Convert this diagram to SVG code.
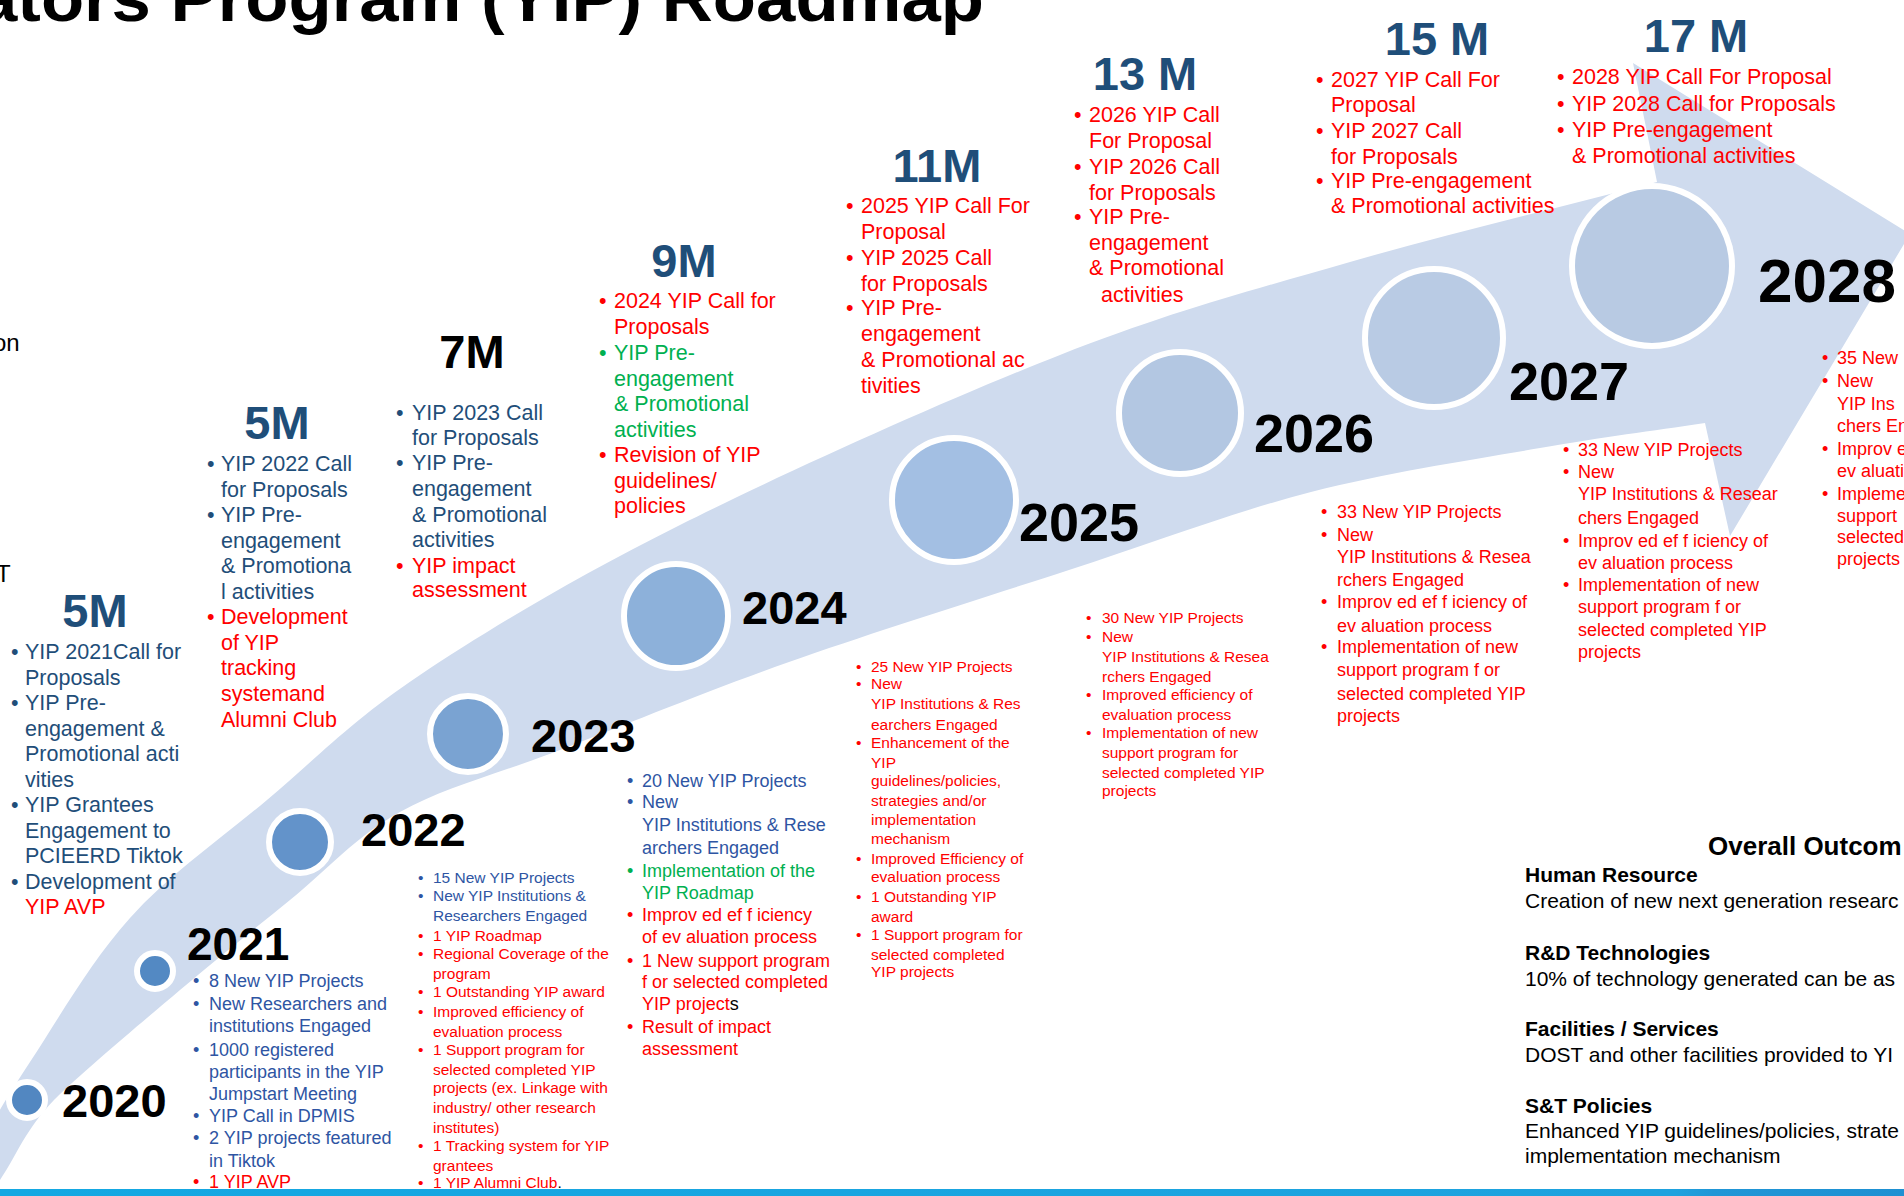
<svg xmlns="http://www.w3.org/2000/svg" width="1904" height="1196" viewBox="0 0 1904 1196">
<defs>
<style>
text { font-family: "Liberation Sans", Arial, sans-serif; }
.b { font-weight: bold; }
.nv { fill: #1F4E79; }
.rd { fill: #FF0000; }
.gr { fill: #00B050; }
.bl { fill: #2E55A3; }
.k { fill: #000000; }
.u { font-size: 21.5px; }
.s { font-size: 15.5px; }
.n { font-size: 18px; }
.m { font-size: 47px; font-weight: bold; text-anchor: middle; }
.yr { font-weight: bold; fill: #000000; }
.ring { stroke: #FFFFFF; stroke-width: 6; }
.oc { font-size: 21px; fill: #000000; }
</style>
<linearGradient id="strip" x1="0" y1="0" x2="1" y2="0">
<stop offset="0" stop-color="#14A8E2"/>
<stop offset="0.88" stop-color="#1FA2DE"/>
<stop offset="0.9" stop-color="#2196D6"/>
<stop offset="1" stop-color="#1E90D2"/>
</linearGradient>
</defs>
<rect x="0" y="0" width="1904" height="1196" fill="#FFFFFF"/>

<g id="connectors">
<path id="timeline-arrow" fill="#CFDBEE" d="M -30 1160 C -10 1127.3 3.3 1102.3 30 1062 C 56.7 1021.7 90.5 961.7 130 918 C 169.5 874.3 218.7 840.5 267 800 C 315.3 759.5 351.2 720.8 420 675 C 488.8 629.2 573.3 578.3 680 525 C 786.7 471.7 948.3 398.8 1060 355 C 1171.7 311.2 1250.5 290.8 1350 262 C 1449.5 233.2 1554.7 208.7 1657 182 L 1633 63 L 1910 234 L 1730 536 L 1705 423 C 1650 431.3 1605.7 436.5 1540 448 C 1474.3 459.5 1389.5 471.7 1311 492 C 1232.5 512.3 1156 541.7 1069 570 C 982 598.3 873.8 632 789 662 C 704.2 692 624.8 725 560 750 C 495.2 775 445 787 400 812 C 355 837 326.7 870.3 290 900 C 253.3 929.7 219.3 956.7 180 990 C 140.7 1023.3 85.7 1069.2 54 1100 C 24 1131.7 18 1153.3 0 1180 L -20 1210 L -60 1210 Z"/>
</g>

<rect id="bottom-strip" x="0" y="1189" width="1904" height="7" fill="url(#strip)"/>

<g id="title">
<text class="b k" x="-22" y="21" font-size="67" textLength="1006" lengthAdjust="spacingAndGlyphs">ators Program (YIP) Roadmap</text>
<text class="k" x="-7" y="351" font-size="24">on</text>
<text class="k" x="-4" y="582" font-size="24">T</text>
</g>

<g id="node-2020"><circle class="ring" cx="27" cy="1100" r="18" fill="#5287C1"/><text class="yr" x="62" y="1117" font-size="47">2020</text></g>
<g id="node-2021"><circle class="ring" cx="155" cy="971" r="18" fill="#5389C3"/><text class="yr" x="187" y="960" font-size="46">2021</text></g>
<g id="node-2022"><circle class="ring" cx="300" cy="842" r="31" fill="#6393CA"/><text class="yr" x="361" y="846" font-size="47">2022</text></g>
<g id="node-2023"><circle class="ring" cx="468" cy="734" r="38" fill="#7AA3D2"/><text class="yr" x="531" y="752" font-size="47">2023</text></g>
<g id="node-2024"><circle class="ring" cx="676" cy="616" r="52" fill="#8DB1DA"/><text class="yr" x="742" y="624" font-size="47">2024</text></g>
<g id="node-2025"><circle class="ring" cx="954" cy="500" r="62" fill="#A3BFE3"/><text class="yr" x="1019" y="541" font-size="54">2025</text></g>
<g id="node-2026"><circle class="ring" cx="1180" cy="413" r="61" fill="#B3C7E2"/><text class="yr" x="1254" y="452" font-size="54">2026</text></g>
<g id="node-2027"><circle class="ring" cx="1434" cy="338" r="69" fill="#B9CBE4"/><text class="yr" x="1509" y="400" font-size="54">2027</text></g>
<g id="node-2028"><circle class="ring" cx="1652" cy="266" r="80" fill="#B8CAE3"/><text class="yr" x="1758" y="302" font-size="62">2028</text></g>

<g id="targets-2021" class="u">
<text class="m nv" x="95" y="627">5M</text>
<text class="nv" y="659"><tspan x="11">•</tspan><tspan x="25">YIP 2021Call for</tspan></text>
<text class="nv" x="25" y="685">Proposals</text>
<text class="nv" y="710"><tspan x="11">•</tspan><tspan x="25">YIP Pre-</tspan></text>
<text class="nv" x="25" y="736">engagement &amp;</text>
<text class="nv" x="25" y="761">Promotional  acti</text>
<text class="nv" x="25" y="787">vities</text>
<text class="nv" y="812"><tspan x="11">•</tspan><tspan x="25">YIP Grantees</tspan></text>
<text class="nv" x="25" y="838">Engagement  to</text>
<text class="nv" x="25" y="863">PCIEERD  Tiktok</text>
<text class="nv" y="889"><tspan x="11">•</tspan><tspan x="25">Development of</tspan></text>
<text class="rd" x="25" y="914">YIP AVP</text>
</g>

<g id="targets-2022" class="u">
<text class="m nv" x="277" y="439">5M</text>
<text class="nv" y="471"><tspan x="207">•</tspan><tspan x="221">YIP 2022 Call</tspan></text>
<text class="nv" x="221" y="497">for Proposals</text>
<text class="nv" y="522"><tspan x="207">•</tspan><tspan x="221">YIP Pre-</tspan></text>
<text class="nv" x="221" y="548">engagement</text>
<text class="nv" x="221" y="573">&amp; Promotiona</text>
<text class="nv" x="221" y="599">l activities</text>
<text class="rd" y="624"><tspan x="207">•</tspan><tspan x="221">Development</tspan></text>
<text class="rd" x="221" y="650">of YIP</text>
<text class="rd" x="221" y="675">tracking</text>
<text class="rd" x="221" y="701">systemand</text>
<text class="rd" x="221" y="727">Alumni Club</text>
</g>

<g id="targets-2023" class="u">
<text class="m k" x="472" y="368">7M</text>
<text class="nv" y="420"><tspan x="396">•</tspan><tspan x="412">YIP 2023 Call</tspan></text>
<text class="nv" x="412" y="445">for Proposals</text>
<text class="nv" y="470"><tspan x="396">•</tspan><tspan x="412">YIP Pre-</tspan></text>
<text class="nv" x="412" y="496">engagement</text>
<text class="nv" x="412" y="522">&amp; Promotional</text>
<text class="nv" x="412" y="547">activities</text>
<text class="rd" y="573"><tspan x="396">•</tspan><tspan x="412">YIP impact</tspan></text>
<text class="rd" x="412" y="597">assessment</text>
</g>

<g id="targets-2024" class="u">
<text class="m nv" x="684" y="277">9M</text>
<text class="rd" y="308"><tspan x="599">•</tspan><tspan x="614">2024 YIP Call  for</tspan></text>
<text class="rd" x="614" y="334">Proposals</text>
<text class="gr" y="360"><tspan x="599">•</tspan><tspan x="614">YIP Pre-</tspan></text>
<text class="gr" x="614" y="386">engagement</text>
<text class="gr" x="614" y="411">&amp; Promotional</text>
<text class="gr" x="614" y="437">activities</text>
<text class="rd" y="462"><tspan x="599">•</tspan><tspan x="614">Revision of YIP</tspan></text>
<text class="rd" x="614" y="488">guidelines/</text>
<text class="rd" x="614" y="513">policies</text>
</g>

<g id="targets-2025" class="u">
<text class="m nv" x="937" y="182">11M</text>
<text class="rd" y="213"><tspan x="846">•</tspan><tspan x="861">2025 YIP Call For</tspan></text>
<text class="rd" x="861" y="239">Proposal</text>
<text class="rd" y="265"><tspan x="846">•</tspan><tspan x="861">YIP 2025 Call</tspan></text>
<text class="rd" x="861" y="291">for Proposals</text>
<text class="rd" y="315"><tspan x="846">•</tspan><tspan x="861">YIP Pre-</tspan></text>
<text class="rd" x="861" y="341">engagement</text>
<text class="rd" x="861" y="367">&amp; Promotional  ac</text>
<text class="rd" x="861" y="393">tivities</text>
</g>

<g id="targets-2026" class="u">
<text class="m nv" x="1145" y="90">13 M</text>
<text class="rd" y="122"><tspan x="1074">•</tspan><tspan x="1089">2026 YIP Call</tspan></text>
<text class="rd" x="1089" y="148">For Proposal</text>
<text class="rd" y="174"><tspan x="1074">•</tspan><tspan x="1089">YIP 2026 Call</tspan></text>
<text class="rd" x="1089" y="200">for Proposals</text>
<text class="rd" y="224"><tspan x="1074">•</tspan><tspan x="1089">YIP Pre-</tspan></text>
<text class="rd" x="1089" y="250">engagement</text>
<text class="rd" x="1089" y="275">&amp; Promotional</text>
<text class="rd" x="1101" y="302">activities</text>
</g>

<g id="targets-2027" class="u">
<text class="m nv" x="1437" y="55">15 M</text>
<text class="rd" y="87"><tspan x="1316">•</tspan><tspan x="1331">2027 YIP Call  For</tspan></text>
<text class="rd" x="1331" y="112">Proposal</text>
<text class="rd" y="138"><tspan x="1316">•</tspan><tspan x="1331">YIP 2027 Call</tspan></text>
<text class="rd" x="1331" y="164">for Proposals</text>
<text class="rd" y="188"><tspan x="1316">•</tspan><tspan x="1331">YIP Pre-engagement</tspan></text>
<text class="rd" x="1331" y="213">&amp; Promotional activities</text>
</g>

<g id="targets-2028" class="u">
<text class="m nv" x="1696" y="52">17 M</text>
<text class="rd" y="84"><tspan x="1557">•</tspan><tspan x="1572">2028 YIP Call For Proposal</tspan></text>
<text class="rd" y="111"><tspan x="1557">•</tspan><tspan x="1572">YIP 2028 Call for Proposals</tspan></text>
<text class="rd" y="137"><tspan x="1557">•</tspan><tspan x="1572">YIP Pre-engagement</tspan></text>
<text class="rd" x="1572" y="163">&amp; Promotional activities</text>
</g>

<g id="results-2021" class="n">
<text class="bl" y="987"><tspan x="193">•</tspan><tspan x="209">8 New YIP Projects</tspan></text>
<text class="bl" y="1010"><tspan x="193">•</tspan><tspan x="209">New Researchers and</tspan></text>
<text class="bl" x="209" y="1032">institutions Engaged</text>
<text class="bl" y="1056"><tspan x="193">•</tspan><tspan x="209">1000 registered</tspan></text>
<text class="bl" x="209" y="1078">participants in the YIP</text>
<text class="bl" x="209" y="1100">Jumpstart Meeting</text>
<text class="bl" y="1122"><tspan x="193">•</tspan><tspan x="209">YIP Call in DPMIS</tspan></text>
<text class="bl" y="1144"><tspan x="193">•</tspan><tspan x="209">2 YIP projects featured</tspan></text>
<text class="bl" x="209" y="1167">in Tiktok</text>
<text class="rd" y="1188"><tspan x="193">•</tspan><tspan x="209">1 YIP AVP</tspan></text>
</g>

<g id="results-2022" class="s">
<text class="bl" y="883"><tspan x="418">•</tspan><tspan x="433">15 New YIP Projects</tspan></text>
<text class="bl" y="901"><tspan x="418">•</tspan><tspan x="433">New YIP  Institutions  &amp;</tspan></text>
<text class="bl" x="433" y="921">Researchers  Engaged</text>
<text class="rd" y="941"><tspan x="418">•</tspan><tspan x="433">1 YIP Roadmap</tspan></text>
<text class="rd" y="959"><tspan x="418">•</tspan><tspan x="433">Regional  Coverage  of the</tspan></text>
<text class="rd" x="433" y="979">program</text>
<text class="rd" y="997"><tspan x="418">•</tspan><tspan x="433">1 Outstanding  YIP award</tspan></text>
<text class="rd" y="1017"><tspan x="418">•</tspan><tspan x="433">Improved  efficiency  of</tspan></text>
<text class="rd" x="433" y="1037">evaluation  process</text>
<text class="rd" y="1055"><tspan x="418">•</tspan><tspan x="433">1 Support  program  for</tspan></text>
<text class="rd" x="433" y="1075">selected  completed  YIP</text>
<text class="rd" x="433" y="1093">projects  (ex. Linkage  with</text>
<text class="rd" x="433" y="1113">industry/  other  research</text>
<text class="rd" x="433" y="1133">institutes)</text>
<text class="rd" y="1151"><tspan x="418">•</tspan><tspan x="433">1 Tracking system for  YIP</tspan></text>
<text class="rd" x="433" y="1171">grantees</text>
<text class="rd" y="1188"><tspan x="418">•</tspan><tspan x="433">1 YIP Alumni Club</tspan><tspan class="k">.</tspan></text>
</g>

<g id="results-2023" class="n">
<text class="bl" y="787"><tspan x="627">•</tspan><tspan x="642">20 New YIP Projects</tspan></text>
<text class="bl" y="808"><tspan x="627">•</tspan><tspan x="642">New</tspan></text>
<text class="bl" x="642" y="831">YIP Institutions &amp; Rese</text>
<text class="bl" x="642" y="854">archers  Engaged</text>
<text class="gr" y="877"><tspan x="627">•</tspan><tspan x="642">Implementation of the</tspan></text>
<text class="gr" x="642" y="899">YIP Roadmap</text>
<text class="rd" y="921"><tspan x="627">•</tspan><tspan x="642">Improv ed ef f iciency</tspan></text>
<text class="rd" x="642" y="943">of ev aluation process</text>
<text class="rd" y="967"><tspan x="627">•</tspan><tspan x="642">1 New support program</tspan></text>
<text class="rd" x="642" y="988">f or selected completed</text>
<text class="rd" x="642" y="1010">YIP project<tspan class="k">s</tspan></text>
<text class="rd" y="1033"><tspan x="627">•</tspan><tspan x="642">Result of impact</tspan></text>
<text class="rd" x="642" y="1055">assessment</text>
</g>

<g id="results-2024" class="s rd">
<text y="672"><tspan x="856">•</tspan><tspan x="871">25 New YIP Projects</tspan></text>
<text y="689"><tspan x="856">•</tspan><tspan x="871">New</tspan></text>
<text x="871" y="709">YIP  Institutions  &amp; Res</text>
<text x="871" y="730">earchers Engaged</text>
<text y="748"><tspan x="856">•</tspan><tspan x="871">Enhancement  of the</tspan></text>
<text x="871" y="768">YIP</text>
<text x="871" y="786">guidelines/policies,</text>
<text x="871" y="806">strategies  and/or</text>
<text x="871" y="825">implementation</text>
<text x="871" y="844">mechanism</text>
<text y="864"><tspan x="856">•</tspan><tspan x="871">Improved  Efficiency of</tspan></text>
<text x="871" y="882">evaluation  process</text>
<text y="902"><tspan x="856">•</tspan><tspan x="871">1 Outstanding  YIP</tspan></text>
<text x="871" y="922">award</text>
<text y="940"><tspan x="856">•</tspan><tspan x="871">1 Support  program  for</tspan></text>
<text x="871" y="960">selected  completed</text>
<text x="871" y="977">YIP projects</text>
</g>

<g id="results-2025" class="s rd">
<text y="623"><tspan x="1086">•</tspan><tspan x="1102">30 New YIP Projects</tspan></text>
<text y="642"><tspan x="1086">•</tspan><tspan x="1102">New</tspan></text>
<text x="1102" y="662">YIP  Institutions  &amp; Resea</text>
<text x="1102" y="682">rchers Engaged</text>
<text y="700"><tspan x="1086">•</tspan><tspan x="1102">Improved  efficiency of</tspan></text>
<text x="1102" y="720">evaluation  process</text>
<text y="738"><tspan x="1086">•</tspan><tspan x="1102">Implementation  of new</tspan></text>
<text x="1102" y="758">support  program  for</text>
<text x="1102" y="778">selected  completed  YIP</text>
<text x="1102" y="796">projects</text>
</g>

<g id="results-2026" class="n rd">
<text y="518"><tspan x="1321">•</tspan><tspan x="1337">33 New YIP Projects</tspan></text>
<text y="541"><tspan x="1321">•</tspan><tspan x="1337">New</tspan></text>
<text x="1337" y="563">YIP  Institutions &amp; Resea</text>
<text x="1337" y="586">rchers Engaged</text>
<text y="608"><tspan x="1321">•</tspan><tspan x="1337">Improv ed ef f iciency of</tspan></text>
<text x="1337" y="632">ev aluation process</text>
<text y="653"><tspan x="1321">•</tspan><tspan x="1337">Implementation of new</tspan></text>
<text x="1337" y="676">support program f or</text>
<text x="1337" y="700">selected completed YIP</text>
<text x="1337" y="722">projects</text>
</g>

<g id="results-2027" class="n rd">
<text y="456"><tspan x="1563">•</tspan><tspan x="1578">33 New YIP Projects</tspan></text>
<text y="478"><tspan x="1563">•</tspan><tspan x="1578">New</tspan></text>
<text x="1578" y="500">YIP  Institutions &amp; Resear</text>
<text x="1578" y="524">chers Engaged</text>
<text y="547"><tspan x="1563">•</tspan><tspan x="1578">Improv ed ef f iciency of</tspan></text>
<text x="1578" y="569">ev aluation process</text>
<text y="591"><tspan x="1563">•</tspan><tspan x="1578">Implementation of new</tspan></text>
<text x="1578" y="613">support program f or</text>
<text x="1578" y="636">selected completed YIP</text>
<text x="1578" y="658">projects</text>
</g>

<g id="results-2028" class="n rd">
<text y="364"><tspan x="1822">•</tspan><tspan x="1837">35 New</tspan></text>
<text y="387"><tspan x="1822">•</tspan><tspan x="1837">New</tspan></text>
<text x="1837" y="410">YIP  Ins</text>
<text x="1837" y="432">chers En</text>
<text y="455"><tspan x="1822">•</tspan><tspan x="1837">Improv e</tspan></text>
<text x="1837" y="477">ev aluati</text>
<text y="500"><tspan x="1822">•</tspan><tspan x="1837">Impleme</tspan></text>
<text x="1837" y="522">support</text>
<text x="1837" y="543">selected</text>
<text x="1837" y="565">projects</text>
</g>

<g id="overall-outcomes">
<text class="b k" x="1708" y="855" font-size="26">Overall Outcom</text>
<text class="oc b" x="1525" y="882">Human Resource</text>
<text class="oc" x="1525" y="908">Creation of new  next generation researc</text>
<text class="oc b" x="1525" y="960">R&amp;D Technologies</text>
<text class="oc" x="1525" y="986">10% of technology generated can be as</text>
<text class="oc b" x="1525" y="1036">Facilities / Services</text>
<text class="oc" x="1525" y="1062">DOST  and other facilities provided to YI</text>
<text class="oc b" x="1525" y="1113">S&amp;T Policies</text>
<text class="oc" x="1525" y="1138">Enhanced YIP  guidelines/policies, strate</text>
<text class="oc" x="1525" y="1163">implementation  mechanism</text>
</g>
</svg>
